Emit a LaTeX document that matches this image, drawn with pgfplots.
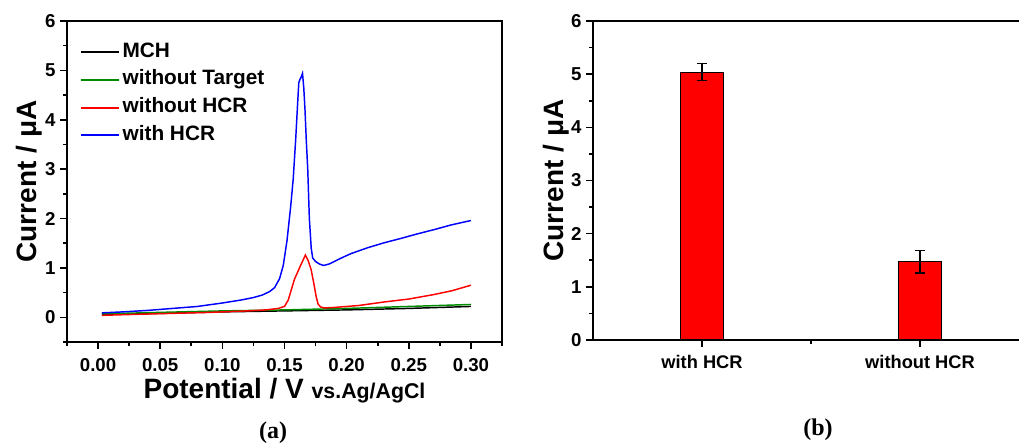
\documentclass[border=0pt]{standalone}
\usepackage{pgfplots}
\pgfplotsset{compat=1.18}
\usepackage{fontspec}
\setmainfont{Liberation Sans}
\newfontfamily\serifb{Liberation Serif}
\definecolor{ogreen}{RGB}{0,140,0}

\pgfplotsset{
  common/.style={
    scale only axis,
    tick align=outside,
    tick pos=left,
    axis line style={line width=1.5pt},
    major tick style={line width=1.2pt, black},
    minor tick style={line width=1.2pt, black},
    major tick length=5pt,
    minor tick length=3pt,
    /pgf/number format/assume math mode=true,
    tick label style={font=\fontsize{14}{16}\selectfont\bfseries},
    label style={font=\fontsize{21}{25}\selectfont\bfseries},
  },
}

\begin{document}
\begin{tikzpicture}
\useasboundingbox (0,0) rectangle (764.25pt,333pt);

% (a) voltammograms
\begin{axis}[
    common,
    at={(50.25pt,76.5pt)}, anchor=south west,
    width=326.25pt, height=240.75pt,
    xmin=-0.025, xmax=0.325,
    ymin=-0.5, ymax=6,
    xtick={0,0.05,0.1,0.15,0.2,0.25,0.3},
    minor xtick={-0.025,0.025,0.075,0.125,0.175,0.225,0.275,0.325},
    ytick={0,1,2,3,4,5,6},
    minor ytick={-0.5,0.5,1.5,2.5,3.5,4.5,5.5},
    xticklabel style={/pgf/number format/.cd, fixed, fixed zerofill, precision=2},
    xticklabel shift=3.5pt,
    ylabel={Current / μA},
    ylabel shift=-4.5pt,
    xlabel={Potential / V {\fontsize{16}{19}\selectfont vs.Ag/AgCl}},
    xlabel shift=-1.5pt,
    legend style={
      at={(0.02,0.955)}, anchor=north west,
      draw=none, fill=none,
      font=\fontsize{15.6}{18}\selectfont\bfseries,
      nodes={inner sep=2pt, text height=12pt, text depth=4.8pt},
    },
    legend cell align=left,
    legend image code/.code={\draw[#1, line width=1.5pt] (0pt,0pt) -- (28.5pt,0pt);},
  ]

  \addplot[color=black, line width=1.1pt] coordinates {
    (0.003,0.06) (0.05,0.08) (0.10,0.11) (0.15,0.13)
    (0.20,0.15) (0.25,0.18) (0.30,0.22)
  };
  \addlegendentry{MCH}

  \addplot[color=ogreen, line width=1.1pt] coordinates {
    (0.003,0.07) (0.05,0.10) (0.10,0.13) (0.15,0.15)
    (0.20,0.18) (0.25,0.22) (0.30,0.26)
  };
  \addlegendentry{without Target}

  \addplot[color=red, line width=1.1pt] coordinates {
    (0.003,0.04) (0.03,0.06) (0.06,0.08) (0.09,0.10) (0.12,0.13)
    (0.135,0.15) (0.145,0.18) (0.15,0.22) (0.153,0.35) (0.156,0.60)
    (0.158,0.77) (0.1633,1.07) (0.1668,1.26) (0.169,1.15) (0.1714,0.97)
    (0.1735,0.70) (0.1754,0.43) (0.177,0.27) (0.179,0.21) (0.182,0.19)
    (0.19,0.20) (0.21,0.24) (0.23,0.31) (0.25,0.37) (0.27,0.46)
    (0.285,0.54) (0.30,0.65)
  };
  \addlegendentry{without HCR}

  \addplot[color=blue, line width=1.1pt] coordinates {
    (0.003,0.09) (0.02,0.11) (0.04,0.14) (0.06,0.18) (0.08,0.22)
    (0.10,0.29) (0.115,0.35) (0.125,0.40) (0.132,0.45) (0.138,0.52)
    (0.142,0.60) (0.146,0.78) (0.149,1.05) (0.152,1.55) (0.155,2.25)
    (0.157,2.80) (0.159,3.60) (0.1605,4.30) (0.1615,4.75) (0.1625,4.82)
    (0.1635,4.87) (0.1645,4.94) (0.1655,4.65) (0.1665,4.20) (0.1675,3.60)
    (0.1687,3.00) (0.170,2.00) (0.1715,1.40) (0.1727,1.20) (0.175,1.13)
    (0.178,1.08) (0.1815,1.05) (0.186,1.08) (0.19,1.13) (0.1965,1.21)
    (0.2035,1.29) (0.217,1.41) (0.2303,1.51) (0.244,1.60) (0.257,1.69)
    (0.271,1.78) (0.284,1.87) (0.30,1.96)
  };
  \addlegendentry{with HCR}
\end{axis}

% (b) peak currents
\begin{axis}[
    common,
    at={(444.75pt,78pt)}, anchor=south west,
    width=319.5pt, height=239.25pt,
    xmin=0.5, xmax=2.454,
    ymin=0, ymax=6,
    axis x line*=bottom, axis y line*=left,
    xtick={1,2}, xticklabels={with HCR, without HCR},
    minor xtick={1.5},
    ytick={0,1,2,3,4,5,6},
    minor ytick={0.5,1.5,2.5,3.5,4.5,5.5},
    xticklabel style={font=\fontsize{13.7}{16}\selectfont\bfseries},
    xticklabel shift=3pt,
    ylabel={Current / μA},
    ylabel shift=-5pt,
    clip=false,
  ]
  \addplot[ybar, bar width=0.2, fill=red, draw=black, line width=0.8pt,
    error bars/.cd, y dir=both, y explicit,
    error bar style={line width=1.1pt, black},
    error mark options={rotate=90, mark size=3.5pt, line width=1.1pt, black}]
    coordinates {(1,5.04) +- (0,0.16) (2,1.47) +- (0,0.21)};
  \draw[line width=1.5pt] (rel axis cs:0,1) -- (rel axis cs:1,1);
\end{axis}

\node[font=\serifb\bfseries\fontsize{18}{20}\selectfont] at (204.75pt,8.25pt) {(a)};
\node[font=\serifb\bfseries\fontsize{18}{20}\selectfont] at (613.5pt,10.5pt) {(b)};
\end{tikzpicture}
\end{document}
